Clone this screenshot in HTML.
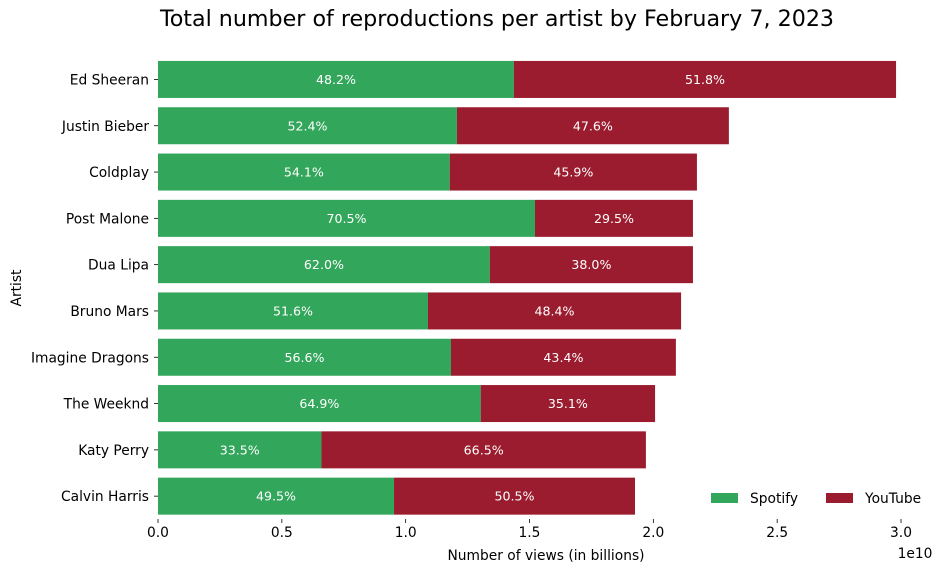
<!DOCTYPE html>
<html><head><meta charset="utf-8"><style>
body{margin:0;background:#fff;font-family:"Liberation Sans","DejaVu Sans",sans-serif;}
svg text{font-family:"DejaVu Sans","Liberation Sans",sans-serif;}
</style></head><body>
<svg id="chart" width="943" height="572" xmlns="http://www.w3.org/2000/svg">
<text x="497" y="26" text-anchor="middle" font-size="22.2" fill="#000">Total number of reproductions per artist by February 7, 2023</text>
<g id="plot"></g>
</svg>
<script>
const artists=["Ed Sheeran","Justin Bieber","Coldplay","Post Malone","Dua Lipa","Bruno Mars","Imagine Dragons","The Weeknd","Katy Perry","Calvin Harris"];
const spotify=[1.437,1.207,1.178,1.522,1.340,1.090,1.183,1.303,0.660,0.953];
const youtube=[1.543,1.098,0.998,0.638,0.820,1.022,0.908,0.704,1.310,0.973];
const xTicks=[0,0.5,1.0,1.5,2.0,2.5,3.0];
const xTickLabels=["0.0","0.5","1.0","1.5","2.0","2.5","3.0"];
const NS="http://www.w3.org/2000/svg";
const g=document.getElementById('plot');
const x0=158,xScale=247.67,top0=56.3,step=46.3,bh=37;
const X=v=>x0+v*xScale;
const Y=i=>top0+step*i+step/2;
function mk(t,a,txt){const e=document.createElementNS(NS,t);for(const k in a)e.setAttribute(k,a[k]);if(txt!=null)e.textContent=txt;g.appendChild(e);return e;}
artists.forEach((name,i)=>{
 const cy=Y(i),s=spotify[i],y=youtube[i],tot=s+y;
 let r=mk('rect',{x:X(0),y:cy-bh/2,width:X(s)-X(0),height:bh,fill:'#32a65a'});
 
 
 r=mk('rect',{x:X(s),y:cy-bh/2,width:X(tot)-X(s),height:bh,fill:'#9b1c2e'});
 
 
 let t=mk('text',{x:(X(0)+X(s))/2,y:cy+4.5,'text-anchor':'middle','font-size':12.6,fill:'#fff'},(s/tot*100).toFixed(1)+'%');
 
 
 t=mk('text',{x:(X(s)+X(tot))/2,y:cy+4.5,'text-anchor':'middle','font-size':12.6,fill:'#fff'},(y/tot*100).toFixed(1)+'%');
 
 
 mk('line',{x1:X(0)-4,x2:X(0),y1:cy,y2:cy,stroke:'#000','stroke-width':0.8});
 t=mk('text',{x:X(0)-9,y:cy+5,'text-anchor':'end','font-size':13.8,fill:'#000'},name);
 
 
});
const axY=519;
xTicks.forEach((v,i)=>{
 mk('line',{x1:X(v),x2:X(v),y1:axY,y2:axY+4,stroke:'#000','stroke-width':0.8});
 const t=mk('text',{x:X(v),y:axY+18,'text-anchor':'middle','font-size':13.8,fill:'#000'},xTickLabels[i]);
 
 
});
let t=mk('text',{x:915,y:558,'text-anchor':'middle','font-size':13.8},'1e10');


t=mk('text',{x:546,y:560,'text-anchor':'middle','font-size':13.8},'Number of views (in billions)');


t=mk('text',{x:21,y:288,'text-anchor':'middle','font-size':13.8,transform:'rotate(-90 21 288)'},'Artist');


let l=mk('rect',{x:711,y:493,width:27,height:10,fill:'#32a65a'});


t=mk('text',{x:750,y:503,'font-size':13.8},'Spotify');


l=mk('rect',{x:826,y:493,width:27,height:10,fill:'#9b1c2e'});


t=mk('text',{x:865,y:503,'font-size':13.8},'YouTube');


</script>
</body></html>
